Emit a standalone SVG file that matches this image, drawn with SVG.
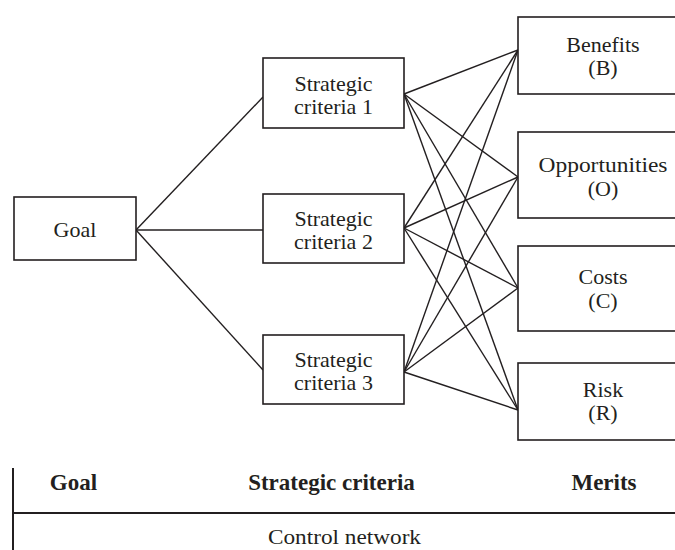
<svg xmlns="http://www.w3.org/2000/svg" width="675" height="550" viewBox="0 0 675 550">
  <style>
    .box { fill: #fff; stroke: #231f20; stroke-width: 1.6; }
    .link { stroke: #231f20; stroke-width: 1.4; fill: none; }
    .rule { stroke: #231f20; stroke-width: 2; fill: none; }
    text { font-family: "Liberation Serif", "Times New Roman", serif; font-size: 22px; fill: #231f20; text-anchor: middle; }
    .head { font-weight: bold; font-size: 23px; }
  </style>
  <rect width="675" height="550" fill="#fff"/>

  <!-- connectors -->
  <g id="connectors">
    <line class="link" x1="136" y1="230" x2="263" y2="97"/>
    <line class="link" x1="136" y1="230" x2="263" y2="230"/>
    <line class="link" x1="136" y1="230" x2="263" y2="370"/>

    <line class="link" x1="404" y1="94" x2="518" y2="50"/>
    <line class="link" x1="404" y1="94" x2="518" y2="177"/>
    <line class="link" x1="404" y1="94" x2="518" y2="288"/>
    <line class="link" x1="404" y1="94" x2="518" y2="410"/>

    <line class="link" x1="404" y1="228" x2="518" y2="50"/>
    <line class="link" x1="404" y1="228" x2="518" y2="177"/>
    <line class="link" x1="404" y1="228" x2="518" y2="288"/>
    <line class="link" x1="404" y1="228" x2="518" y2="410"/>

    <line class="link" x1="404" y1="372" x2="518" y2="50"/>
    <line class="link" x1="404" y1="372" x2="518" y2="177"/>
    <line class="link" x1="404" y1="372" x2="518" y2="288"/>
    <line class="link" x1="404" y1="372" x2="518" y2="410"/>
  </g>

  <!-- goal -->
  <g id="goal">
    <rect class="box" x="14" y="197" width="122" height="63"/>
    <text x="75" y="237">Goal</text>
  </g>

  <!-- strategic criteria -->
  <g id="sc1">
    <rect class="box" x="263" y="58" width="141" height="70"/>
    <text x="333.5" y="91">Strategic</text>
    <text x="333.5" y="114">criteria 1</text>
  </g>
  <g id="sc2">
    <rect class="box" x="263" y="194" width="141" height="69"/>
    <text x="333.5" y="226">Strategic</text>
    <text x="333.5" y="249">criteria 2</text>
  </g>
  <g id="sc3">
    <rect class="box" x="263" y="335" width="141" height="69"/>
    <text x="333.5" y="367">Strategic</text>
    <text x="333.5" y="390">criteria 3</text>
  </g>

  <!-- merits -->
  <g id="benefits">
    <rect class="box" x="518" y="17" width="172" height="77"/>
    <text x="603" y="52">Benefits</text>
    <text x="603" y="75">(B)</text>
  </g>
  <g id="opportunities">
    <rect class="box" x="518" y="132" width="172" height="86"/>
    <text x="603" y="172" textLength="129" lengthAdjust="spacingAndGlyphs">Opportunities</text>
    <text x="603" y="196">(O)</text>
  </g>
  <g id="costs">
    <rect class="box" x="518" y="246" width="172" height="85"/>
    <text x="603" y="284">Costs</text>
    <text x="603" y="308">(C)</text>
  </g>
  <g id="risk">
    <rect class="box" x="518" y="363" width="172" height="77"/>
    <text x="603" y="397">Risk</text>
    <text x="603" y="420">(R)</text>
  </g>

  <!-- level legend -->
  <g id="legend">
    <line class="rule" x1="13" y1="468" x2="13" y2="550"/>
    <line class="rule" x1="13" y1="513" x2="675" y2="513"/>
    <text class="head" x="73.5" y="490">Goal</text>
    <text class="head" x="331.5" y="490">Strategic criteria</text>
    <text class="head" x="604" y="490">Merits</text>
    <text x="344.5" y="544" textLength="153" lengthAdjust="spacingAndGlyphs">Control network</text>
  </g>
</svg>
